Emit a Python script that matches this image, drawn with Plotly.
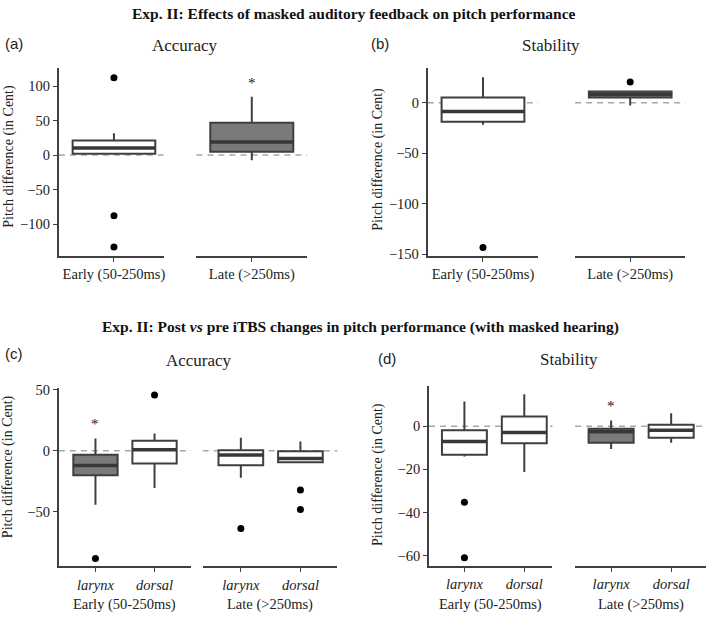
import plotly.graph_objects as go

# ---------------- data ----------------
# Panel (a) Accuracy, masked feedback
a_groups = ["Early (50-250ms)", "Late (>250ms)"]
a_q1 = [2.0, 4.7]
a_med = [10.4, 18.9]
a_q3 = [21.3, 46.8]
a_lo = [1.0, -7.6]
a_hi = [31.6, 84.5]
a_out = [[112, -88, -133], []]
a_sig = [False, True]
a_star = [None, 105]

# Panel (b) Stability, masked feedback
b_groups = ["Early (50-250ms)", "Late (>250ms)"]
b_q1 = [-19.0, 5.2]
b_med = [-8.7, 8.4]
b_q3 = [5.2, 11.0]
b_lo = [-22.0, -2.9]
b_hi = [25.2, 11.5]
b_out = [[-143.4], [20.3]]
b_sig = [False, True]
b_star = [None, 38]

# Panel (c) Accuracy, post vs pre iTBS  (order: early-larynx, early-dorsal, late-larynx, late-dorsal)
sites = ["larynx", "dorsal"]
windows = ["Early (50-250ms)", "Late (>250ms)"]
c_q1 = [-20.0, -10.4, -11.8, -9.4]
c_med = [-12.0, 0.8, -3.5, -6.4]
c_q3 = [-3.2, 8.2, 0.5, -0.3]
c_lo = [-44.0, -30.4, -22.0, -10.0]
c_hi = [10.0, 14.0, 10.6, 7.5]
c_out = [[-88], [45.6], [-63.5], [-32, -48]]
c_sig = [True, False, False, False]
c_star = [21.6, None, None, None]

# Panel (d) Stability, post vs pre iTBS
d_q1 = [-13.2, -7.9, -7.6, -5.3]
d_med = [-7.1, -2.9, -2.6, -1.8]
d_q3 = [-1.8, 4.5, -1.1, 0.7]
d_lo = [-14.0, -21.2, -10.6, -7.6]
d_hi = [11.5, 14.8, 2.7, 6.0]
d_out = [[-35.2, -61], [], [], []]
d_sig = [False, False, True, False]
d_star = [None, None, 9.5, None]

a_yticks = [-100, -50, 0, 50, 100]
b_yticks = [-150, -100, -50, 0]
c_yticks = [-50, 0, 50]
d_yticks = [-60, -40, -20, 0]

# ---------------- layout geometry ----------------
W, H = 709, 621
FONT = "Liberation Serif, Times New Roman, serif"
SANS = "Liberation Sans, Arial, sans-serif"
LINE = "#3f3f3f"
DARK = "#7a7a7a"
BOXW = 0.75


def fx(px):
    return px / W


def fy(py):
    return 1 - py / H


xdom_px = [[(59, 164), (197, 308)], [(429, 539.7), (576.7, 687.3)],
           [(59, 191.7), (203.3, 338.3)], [(430.3, 554), (576.7, 708)]]
xranges = [[(-0.5, 0.45), (-0.5, 0.5)], [(-0.5, 0.5), (-0.5, 0.5)],
           [(-0.62, 1.62), (-0.64, 1.62)], [(-0.59, 1.47), (-0.6, 1.58)]]
ydom_px = [(63, 255), (63, 255), (390, 572.3), (388.3, 571.7)]
yranges = [(-145.7, 126.7), (-151.5, 34.6), (-94.4, 51.4), (-64.7, 18.6)]

panels = [
    dict(groups=[[a_groups[0]], [a_groups[1]]], q1=a_q1, med=a_med, q3=a_q3, lo=a_lo, hi=a_hi,
         out=a_out, sig=a_sig, star=a_star, yticks=a_yticks, italic=False),
    dict(groups=[[b_groups[0]], [b_groups[1]]], q1=b_q1, med=b_med, q3=b_q3, lo=b_lo, hi=b_hi,
         out=b_out, sig=b_sig, star=b_star, yticks=b_yticks, italic=False),
    dict(groups=[sites, sites], q1=c_q1, med=c_med, q3=c_q3, lo=c_lo, hi=c_hi,
         out=c_out, sig=c_sig, star=c_star, yticks=c_yticks, italic=True),
    dict(groups=[sites, sites], q1=d_q1, med=d_med, q3=d_q3, lo=d_lo, hi=d_hi,
         out=d_out, sig=d_sig, star=d_star, yticks=d_yticks, italic=True),
]

fig = go.Figure()
layout = {}
shapes = []
annotations = []


def axname(k, letter):
    return letter if k == 1 else f"{letter}{k}"


for p, pan in enumerate(panels):
    yname = axname(p + 1, "y")
    idx = 0
    for f in range(2):
        k = 2 * p + f + 1
        xname = axname(k, "x")
        cats = pan["groups"][f]
        for j, cat in enumerate(cats):
            fill = DARK if pan["sig"][idx] else "white"
            fig.add_trace(go.Box(
                x=[j], q1=[pan["q1"][idx]], median=[pan["med"][idx]], q3=[pan["q3"][idx]],
                lowerfence=[pan["lo"][idx]], upperfence=[pan["hi"][idx]],
                width=BOXW, whiskerwidth=0, boxpoints=False, fillcolor=fill,
                line=dict(color=LINE, width=2), xaxis=xname, yaxis=yname,
                hoverinfo="skip"))
            fig.add_trace(go.Scatter(
                x=[j - BOXW / 2, j + BOXW / 2], y=[pan["med"][idx]] * 2, mode="lines",
                line=dict(color="#383838", width=3.5), xaxis=xname, yaxis=yname,
                hoverinfo="skip"))
            if pan["out"][idx]:
                fig.add_trace(go.Scatter(
                    x=[j] * len(pan["out"][idx]), y=pan["out"][idx], mode="markers",
                    marker=dict(color="black", size=7), xaxis=xname, yaxis=yname,
                    hoverinfo="skip"))
            if pan["star"][idx] is not None:
                annotations.append(dict(x=j, y=pan["star"][idx], xref=xname, yref=yname,
                                        text="*", showarrow=False, xanchor="center",
                                        yanchor="middle",
                                        font=dict(family=FONT, size=15, color="#222")))
            idx += 1
        ticktext = [f"<i>{c}</i>" for c in cats] if pan["italic"] else cats
        (x0, x1) = xdom_px[p][f]
        layout[axname(k, "xaxis")] = dict(
            domain=[fx(x0), fx(x1)], range=list(xranges[p][f]), anchor=yname,
            tickvals=list(range(len(cats))), ticktext=ticktext,
            showline=True, linecolor=LINE, linewidth=2, ticks="outside", ticklen=4,
            tickcolor=LINE, tickwidth=1, showgrid=False, zeroline=False,
            tickfont=dict(family=FONT, size=14.5, color="#222"))
        # dashed zero reference per facet
        shapes.append(dict(type="line", xref=f"{xname} domain", yref=yname,
                           x0=0, x1=1, y0=0, y1=0, layer="below",
                           line=dict(color="#a8a8a8", width=1.5, dash="6px,5px")))
        if pan["italic"]:
            annotations.append(dict(x=0.5, xref=f"{xname} domain", y=fy(611.7), yref="paper",
                                    text=windows[f], showarrow=False, yanchor="middle",
                                    xanchor="center",
                                    font=dict(family=FONT, size=14.5, color="#222")))
    (y0, y1) = ydom_px[p]
    layout[axname(p + 1, "yaxis")] = dict(
        domain=[fy(y1), fy(y0)], range=list(yranges[p]), anchor=axname(2 * p + 1, "x"),
        tickvals=pan["yticks"], ticktext=[str(v).replace("-", "\u2212") for v in pan["yticks"]],
        showline=True, linecolor=LINE, linewidth=2, ticks="outside", ticklen=4,
        tickcolor=LINE, tickwidth=1, showgrid=False, zeroline=False,
        tickfont=dict(family=FONT, size=14.5, color="#222"))

# texts
main_titles = ["<b>Exp. II: Effects of masked auditory feedback on pitch performance</b>",
               "<b>Exp. II: Post <i>vs</i> pre iTBS changes in pitch performance (with masked hearing)</b>"]
annotations.append(dict(x=fx(355), y=fy(8), xref="paper", yref="paper", text=main_titles[0],
                        showarrow=False, xanchor="center", yanchor="middle",
                        font=dict(family=FONT, size=15.5, color="#111")))
annotations.append(dict(x=fx(362), y=fy(327.5), xref="paper", yref="paper", text=main_titles[1],
                        showarrow=False, xanchor="center", yanchor="middle",
                        font=dict(family=FONT, size=15.5, color="#111")))

sub_titles = ["Accuracy", "Stability", "Accuracy", "Stability"]
sub_pos = [(185.7, 40), (553, 40), (200, 361.7), (570.7, 360.7)]
for t, (sx, sy) in zip(sub_titles, sub_pos):
    annotations.append(dict(x=fx(sx), y=fy(sy), xref="paper", yref="paper", text=t,
                            showarrow=False, xanchor="center", yanchor="middle",
                            font=dict(family=FONT, size=17, color="#222")))

labels = ["(a)", "(b)", "(c)", "(d)"]
lab_pos = [(3, 38), (370, 38), (3, 355), (377, 360)]
for t, (lx, ly) in zip(labels, lab_pos):
    annotations.append(dict(x=fx(lx), y=fy(ly), xref="paper", yref="paper", text=t,
                            xanchor="left", yanchor="middle", showarrow=False,
                            font=dict(family=SANS, size=15, color="#222")))

ytitle = "Pitch difference (in Cent)"
yt_pos = [(9, 153), (379, 156), (8, 470), (379, 478)]
for (tx, ty) in yt_pos:
    annotations.append(dict(x=fx(tx), y=fy(ty), xref="paper", yref="paper", text=ytitle,
                            textangle=-90, showarrow=False, xanchor="center", yanchor="middle",
                            font=dict(family=FONT, size=14, color="#222")))

fig.update_layout(
    width=W, height=H, margin=dict(l=0, r=0, t=0, b=0),
    paper_bgcolor="white", plot_bgcolor="white", showlegend=False,
    boxmode="overlay", shapes=shapes, annotations=annotations, **layout)

fig.write_html("out.html", post_script="document.body.style.margin='0px';",
               config={"displayModeBar": False})
